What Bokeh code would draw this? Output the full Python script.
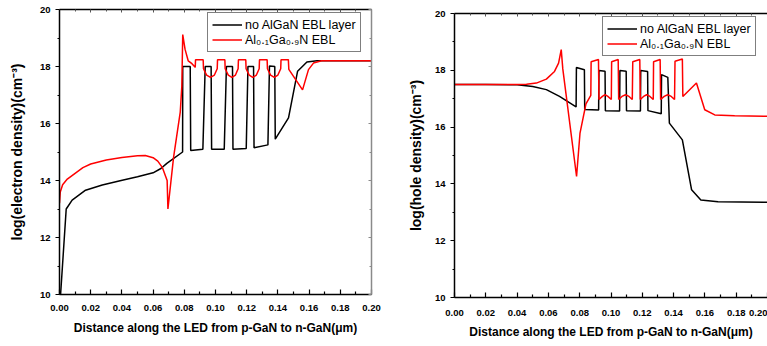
from bokeh.plotting import figure
from bokeh.models import Range1d, LinearAxis, FixedTicker, PrintfTickFormatter, Legend, LegendItem
from bokeh.layouts import row, column
from bokeh.embed import file_html
from bokeh.resources import INLINE

# ---------------- data ----------------
x_ticks = [0.00, 0.02, 0.04, 0.06, 0.08, 0.10, 0.12, 0.14, 0.16, 0.18, 0.20]
x_minor = [0.01, 0.03, 0.05, 0.07, 0.09, 0.11, 0.13, 0.15, 0.17, 0.19]
y_ticks = [10, 12, 14, 16, 18, 20]
y_minor = [11, 13, 15, 17, 19]

label_black = "no AlGaN EBL layer"
label_red = "Al\u2080.\u2081Ga\u2080.\u2089N EBL"
x_title = "Distance along the LED from p-GaN to n-GaN(\u03bcm)"
y_title_e = "log(electron density)(cm\u207b\u00b3)"
y_title_h = "log(hole density)(cm\u207b\u00b3)"

# electron density, no EBL
black_e_x = [0.0007, 0.0043, 0.0081, 0.0167, 0.0274, 0.0402, 0.0500, 0.0600, 0.0650, 0.0688,
             0.0789, 0.0790, 0.0838, 0.0841, 0.0919, 0.0934, 0.0972, 0.0975, 0.1056, 0.1070,
             0.1109, 0.1112, 0.1197, 0.1208, 0.1244, 0.1247, 0.1336, 0.1346, 0.1380, 0.1383,
             0.1468, 0.1526, 0.1586, 0.1650, 0.2000]
black_e_y = [10.0, 13.0, 13.31, 13.66, 13.84, 14.01, 14.13, 14.27, 14.42, 14.60,
             15.0, 18.0, 18.0, 15.05, 15.10, 18.0, 18.0, 15.10, 15.10, 18.0,
             18.0, 15.10, 15.12, 18.0, 18.0, 15.15, 15.25, 18.02, 18.0, 15.45,
             16.20, 17.83, 18.16, 18.20, 18.20]

# electron density, AlGaN EBL
red_e_x = [0.0000, 0.0005, 0.0020, 0.0050, 0.0100, 0.0150, 0.0200, 0.0300, 0.0400, 0.0500,
           0.0550, 0.0600, 0.0630, 0.0660, 0.0690, 0.0695, 0.0731, 0.0774, 0.0784, 0.0790,
           0.0805, 0.0825, 0.0849, 0.0870, 0.0872, 0.0921, 0.0923, 0.0943, 0.0968, 0.0993,
           0.1011, 0.1013, 0.1060, 0.1062, 0.1082, 0.1105, 0.1128, 0.1145, 0.1147, 0.1194,
           0.1196, 0.1216, 0.1239, 0.1262, 0.1280, 0.1282, 0.1331, 0.1333, 0.1353, 0.1377,
           0.1400, 0.1418, 0.1420, 0.1467, 0.1470, 0.1558, 0.1596, 0.1628, 0.1680, 0.2000]
red_e_y = [13.20, 13.60, 13.85, 14.05, 14.25, 14.45, 14.58, 14.72, 14.81, 14.87,
           14.88, 14.80, 14.68, 14.45, 14.00, 13.00, 14.80, 16.40, 17.30, 19.12,
           18.60, 18.20, 18.10, 17.97, 18.24, 18.24, 17.92, 17.70, 17.62, 17.70,
           17.92, 18.24, 18.24, 17.92, 17.70, 17.62, 17.70, 17.92, 18.24, 18.24,
           17.92, 17.70, 17.62, 17.70, 17.92, 18.24, 18.24, 17.92, 17.70, 17.62,
           17.70, 17.92, 18.24, 18.24, 17.90, 17.18, 17.89, 18.12, 18.20, 18.20]

# hole density, no EBL
black_h_x = [0.0000, 0.0200, 0.0400, 0.0500, 0.0587, 0.0671, 0.0777, 0.0779, 0.0830, 0.0832,
             0.0921, 0.0923, 0.0962, 0.0964, 0.1055, 0.1057, 0.1097, 0.1099, 0.1188, 0.1190,
             0.1234, 0.1236, 0.1321, 0.1323, 0.1363, 0.1373, 0.1456, 0.1515, 0.1574, 0.1684,
             0.2000]
black_h_y = [17.50, 17.50, 17.49, 17.43, 17.32, 17.08, 16.71, 18.10, 18.02, 16.62,
             16.60, 17.99, 17.97, 16.58, 16.57, 17.99, 17.97, 16.58, 16.57, 17.99,
             17.96, 16.58, 16.47, 17.85, 17.75, 16.14, 15.55, 13.79, 13.43, 13.37,
             13.35]

# hole density, AlGaN EBL
red_h_x = [0.0000, 0.0200, 0.0400, 0.0460, 0.0523, 0.0587, 0.0639, 0.0665, 0.0682, 0.0692,
           0.0780, 0.0802, 0.0840, 0.0871, 0.0873, 0.0920, 0.0923, 0.0945, 0.0962, 0.0980,
           0.1002, 0.1004, 0.1046, 0.1049, 0.1070, 0.1093, 0.1115, 0.1136, 0.1139, 0.1184,
           0.1187, 0.1208, 0.1228, 0.1249, 0.1270, 0.1272, 0.1314, 0.1317, 0.1340, 0.1362,
           0.1385, 0.1406, 0.1409, 0.1456, 0.1459, 0.1546, 0.1599, 0.1663, 0.1790, 0.2000]
red_h_y = [17.50, 17.50, 17.50, 17.51, 17.55, 17.69, 17.96, 18.25, 18.73, 18.05,
           14.26, 15.79, 16.82, 17.12, 18.30, 18.38, 16.97, 17.08, 17.14, 17.08,
           16.97, 18.30, 18.38, 16.97, 17.08, 17.14, 17.08, 16.97, 18.30, 18.38,
           16.97, 17.08, 17.14, 17.08, 16.97, 18.30, 18.38, 16.97, 17.08, 17.14,
           17.08, 16.97, 18.32, 18.40, 17.08, 17.55, 16.61, 16.43, 16.40, 16.38]

FONT = "Liberation Sans"


def make_panel(width, height, borders, bx, by, rx, ry, ytitle, legend_loc, right_axis,
               ylabel_standoff, xtick_standoff, xlabel_standoff):
    bl, br, bt, bb = borders
    p = figure(width=width, height=height, x_range=Range1d(0, 0.2), y_range=Range1d(10, 20),
               output_backend="svg", toolbar_location=None,
               min_border_left=bl, min_border_right=br, min_border_top=bt, min_border_bottom=bb)
    p.outline_line_color = None
    p.xgrid.visible = False
    p.ygrid.visible = False
    p.background_fill_color = "white"
    p.border_fill_color = "white"

    xa = p.xaxis[0]
    xa.ticker = FixedTicker(ticks=x_ticks, minor_ticks=x_minor)
    xa.formatter = PrintfTickFormatter(format="%.2f")
    xa.major_tick_in = 5
    xa.major_tick_out = 0
    xa.minor_tick_in = 3
    xa.minor_tick_out = 0
    xa.major_label_standoff = xtick_standoff
    xa.major_label_text_font = FONT
    xa.major_label_text_font_style = "bold"
    xa.major_label_text_font_size = "9.5px"
    xa.major_label_text_color = "black"
    xa.axis_label = x_title
    xa.axis_label_text_font = FONT
    xa.axis_label_text_font_style = "bold"
    xa.axis_label_text_font_size = "12px"
    xa.axis_label_text_color = "black"
    xa.axis_label_standoff = xlabel_standoff
    xa.axis_line_width = 1.5
    xa.major_tick_line_width = 1.2
    xa.minor_tick_line_width = 1.2

    ya = p.yaxis[0]
    ya.ticker = FixedTicker(ticks=y_ticks, minor_ticks=y_minor)
    ya.major_tick_in = 0
    ya.major_tick_out = 4
    ya.minor_tick_in = 0
    ya.minor_tick_out = 2
    ya.major_label_standoff = 5
    ya.major_label_text_font = FONT
    ya.major_label_text_font_style = "bold"
    ya.major_label_text_font_size = "9.5px"
    ya.major_label_text_color = "black"
    ya.axis_label = ytitle
    ya.axis_label_text_font = FONT
    ya.axis_label_text_font_style = "bold"
    ya.axis_label_text_font_size = "14px"
    ya.axis_label_text_color = "black"
    ya.axis_label_standoff = ylabel_standoff
    ya.axis_line_width = 1.5
    ya.major_tick_line_width = 1.2
    ya.minor_tick_line_width = 1.2

    top = LinearAxis(ticker=FixedTicker(ticks=x_ticks, minor_ticks=x_minor))
    top.major_tick_in = 3
    top.major_tick_out = 0
    top.minor_tick_in = 2
    top.minor_tick_out = 0
    top.major_label_text_font_size = "0px"
    top.major_label_text_color = None
    top.major_label_standoff = 0
    top.axis_line_width = 1.5
    top.major_tick_line_color = "#555555"
    top.minor_tick_line_color = "#555555"
    p.add_layout(top, "above")

    if right_axis:
        rgt = LinearAxis(ticker=FixedTicker(ticks=y_ticks, minor_ticks=y_minor))
        rgt.major_tick_in = 3
        rgt.major_tick_out = 0
        rgt.minor_tick_in = 2
        rgt.minor_tick_out = 0
        rgt.major_label_text_font_size = "0px"
        rgt.major_label_text_color = None
        rgt.major_label_standoff = 0
        rgt.axis_line_width = 1.5
        rgt.axis_line_color = "#8a8a8a"
        rgt.major_tick_line_color = "#8a8a8a"
        rgt.minor_tick_line_color = "#8a8a8a"
        p.add_layout(rgt, "right")

    r_black = p.line(bx, by, line_color="black", line_width=1.5)
    r_red = p.line(rx, ry, line_color="#ff0000", line_width=1.5)

    legend = Legend(items=[LegendItem(label=label_black, renderers=[r_black]),
                           LegendItem(label=label_red, renderers=[r_red])],
                    location=legend_loc)
    legend.label_text_font = FONT
    legend.label_text_font_size = "12.5px"
    legend.label_text_color = "black"
    legend.glyph_width = 30
    legend.glyph_height = 15
    legend.label_height = 15
    legend.label_standoff = 3
    legend.padding = 4
    legend.spacing = 0
    legend.margin = 0
    legend.border_line_color = "black"
    legend.border_line_width = 1
    legend.background_fill_color = "white"
    legend.background_fill_alpha = 1.0
    p.add_layout(legend)
    return p


p1 = make_panel(398, 340, (59, 27, 9, 46), black_e_x, black_e_y, red_e_x, red_e_y,
                y_title_e, (148, 242), True, 12, 10, 7)
p2 = make_panel(369, 344, (56, 0, 13, 47), black_h_x, black_h_y, red_h_x, red_h_y,
                y_title_h, (148, 241), False, 8, 12, 6)

layout = row(column(p1), column(p2))
open("out.html", "w").write(file_html(layout, INLINE))
